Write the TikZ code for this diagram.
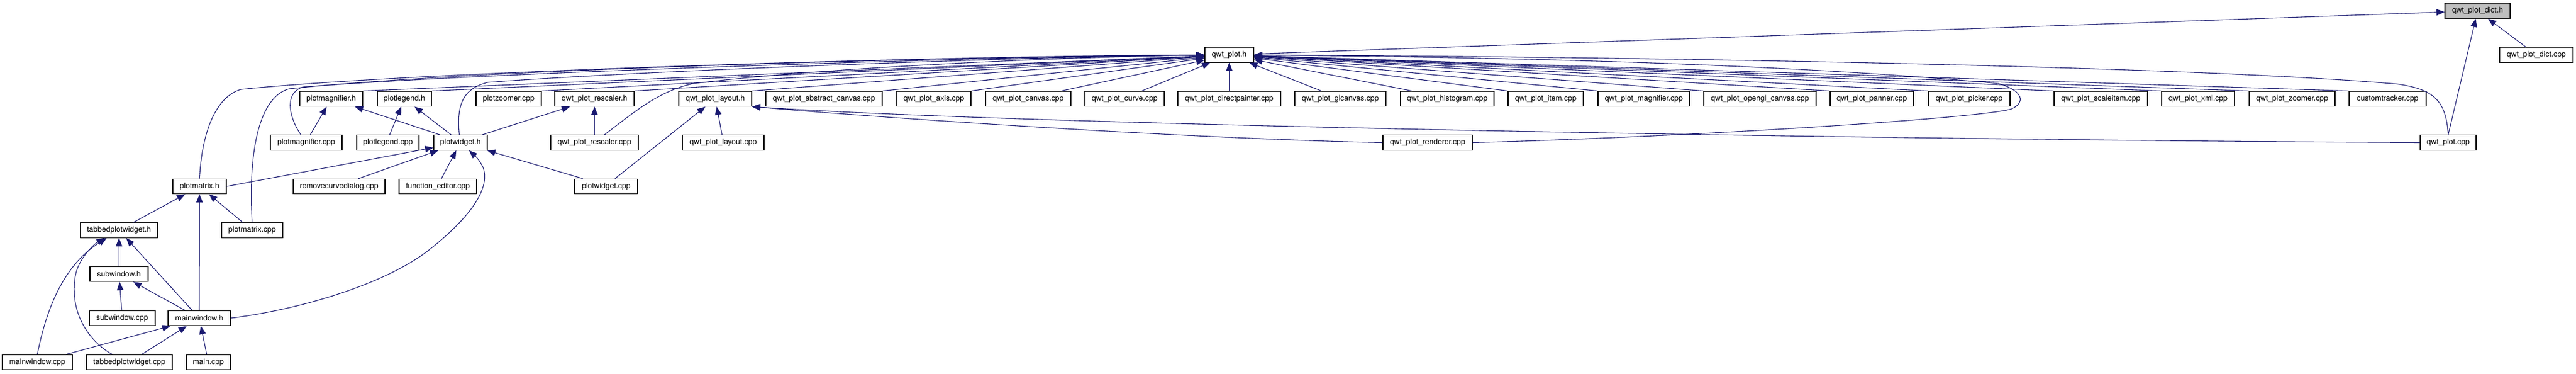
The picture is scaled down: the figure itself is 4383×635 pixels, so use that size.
\documentclass[tikz,border=0pt]{standalone}
\usepackage{fontspec}
\setmainfont{TeX Gyre Heros}
\usetikzlibrary{arrows.meta}
\definecolor{depblue}{RGB}{25,25,112}
\definecolor{rootgray}{RGB}{191,191,191}
\begin{document}
\begin{tikzpicture}[x=1pt,y=-1pt,
  nbox/.style={draw=black, line width=1.2pt, fill=white, minimum height=25.5pt, inner sep=0pt, font=\fontsize{13}{15}\selectfont},
  rootbox/.style={nbox, fill=rootgray},
  dep/.style={draw=depblue, line width=1.1pt, -{Triangle[length=14pt,width=11pt]}}]
\fill[white] (0,0) rectangle (4383,635);
\useasboundingbox (0,0) rectangle (4383,635);

% row 0 / 1
\node[rootbox, minimum width=111pt] (dict) at (4215.5,18.5) {qwt\_plot\_dict.h};
\node[nbox, minimum width=125pt] (dictcpp) at (4315.5,93.2) {qwt\_plot\_dict.cpp};
\node[nbox, minimum width=83pt] (qp) at (2091.5,93.2) {qwt\_plot.h};

% row 2
\node[nbox, minimum width=107pt] (pmagh) at (563.5,168) {plotmagnifier.h};
\node[nbox, minimum width=92pt] (plegh) at (688,168) {plotlegend.h};
\node[nbox, minimum width=111pt] (pzoom) at (865.5,168) {plotzoomer.cpp};
\node[nbox, minimum width=135pt] (resch) at (1011.5,168) {qwt\_plot\_rescaler.h};
\node[nbox, minimum width=124pt] (layh) at (1217,168) {qwt\_plot\_layout.h};
\node[nbox, minimum width=198pt] (abs) at (1402,168) {qwt\_plot\_abstract\_canvas.cpp};
\node[nbox, minimum width=126pt] (axis) at (1589,168) {qwt\_plot\_axis.cpp};
\node[nbox, minimum width=145pt] (canvas) at (1749.5,168) {qwt\_plot\_canvas.cpp};
\node[nbox, minimum width=135pt] (curve) at (1913.5,168) {qwt\_plot\_curve.cpp};
\node[nbox, minimum width=175pt] (dpaint) at (2091.5,168) {qwt\_plot\_directpainter.cpp};
\node[nbox, minimum width=155pt] (gl) at (2280.5,168) {qwt\_plot\_glcanvas.cpp};
\node[nbox, minimum width=159pt] (hist) at (2462.5,168) {qwt\_plot\_histogram.cpp};
\node[nbox, minimum width=128pt] (item) at (2630,168) {qwt\_plot\_item.cpp};
\node[nbox, minimum width=156pt] (magc) at (2797,168) {qwt\_plot\_magnifier.cpp};
\node[nbox, minimum width=191pt] (ogl) at (2994.5,168) {qwt\_plot\_opengl\_canvas.cpp};
\node[nbox, minimum width=142pt] (pan) at (3185,168) {qwt\_plot\_panner.cpp};
\node[nbox, minimum width=139pt] (pick) at (3350.5,168) {qwt\_plot\_picker.cpp};
\node[nbox, minimum width=159pt] (scale) at (3574.5,168) {qwt\_plot\_scaleitem.cpp};
\node[nbox, minimum width=124pt] (xml) at (3740,168) {qwt\_plot\_xml.cpp};
\node[nbox, minimum width=146pt] (zoomr) at (3900,168) {qwt\_plot\_zoomer.cpp};
\node[nbox, minimum width=131pt] (ctrack) at (4062.5,168) {customtracker.cpp};

% row 3
\node[nbox, minimum width=122pt] (pmagc) at (521,242.5) {plotmagnifier.cpp};
\node[nbox, minimum width=106pt] (plegc) at (660,242.5) {plotlegend.cpp};
\node[nbox, minimum width=91pt] (pwh) at (783.5,242.5) {plotwidget.h};
\node[nbox, minimum width=149pt] (rescc) at (1011.5,242.5) {qwt\_plot\_rescaler.cpp};
\node[nbox, minimum width=139pt] (layc) at (1230.5,242.5) {qwt\_plot\_layout.cpp};
\node[nbox, minimum width=152pt] (rend) at (2429,242.5) {qwt\_plot\_renderer.cpp};
\node[nbox, minimum width=95pt] (qpc) at (4165.5,242.5) {qwt\_plot.cpp};

% row 4
\node[nbox, minimum width=91pt] (pmh) at (339.5,317) {plotmatrix.h};
\node[nbox, minimum width=156pt] (rcd) at (577,317) {removecurvedialog.cpp};
\node[nbox, minimum width=132pt] (fed) at (745,317) {function\_editor.cpp};
\node[nbox, minimum width=107pt] (pwc) at (1031.5,317) {plotwidget.cpp};

% row 5
\node[nbox, minimum width=131pt] (tpwh) at (202.5,391.5) {tabbedplotwidget.h};
\node[nbox, minimum width=104pt] (pmc) at (429,391.5) {plotmatrix.cpp};

% row 6
\node[nbox, minimum width=99pt] (swh) at (202.5,466) {subwindow.h};

% row 7
\node[nbox, minimum width=112pt] (swc) at (208,541) {subwindow.cpp};
\node[nbox, minimum width=106pt] (mwh) at (339,541) {mainwindow.h};

% row 8
\node[nbox, minimum width=119pt] (mwc) at (63.5,616) {mainwindow.cpp};
\node[nbox, minimum width=146pt] (tpwc) at (220,616) {tabbedplotwidget.cpp};
\node[nbox, minimum width=75pt] (mainc) at (354.5,616) {main.cpp};

% ---- edges into qwt_plot_dict.h
\draw[dep] (qp) -- (dict);
\draw[dep] (qpc.north) -- (dict);
\draw[dep] (dictcpp) -- (dict);

% ---- edges into qwt_plot.h
\foreach \s in {pmagh,plegh,pzoom,resch,layh,abs,axis}
  \draw[dep] (\s.north east) -- (qp);
\draw[dep] ([xshift=-17pt]canvas.north east) -- (qp);
\draw[dep] ([xshift=-39pt]curve.north east) -- (qp);
\draw[dep] (dpaint) -- (qp);
\draw[dep] ([xshift=46pt]gl.north west) -- (qp);
\draw[dep] ([xshift=20pt]hist.north west) -- (qp);
\foreach \s in {item,magc,ogl,pan,pick,scale,xml,zoomr,ctrack}
  \draw[dep] (\s.north west) -- (qp);
\draw[dep] (pmh.north) .. controls (343,230) and (365,165) .. (410,152)
  .. controls (700,122) and (1600,95) .. (qp);
\draw[dep] (pmc.north) .. controls (422,260) and (440,165) .. (492,151)
  .. controls (800,118) and (1600,97) .. (qp);
\draw[dep] ([xshift=-9pt]pmagc.north) .. controls (495,205) and (480,160) .. (515,148)
  .. controls (800,125) and (1600,98) .. (qp);
\draw[dep] ([xshift=-2pt]pwh.north) .. controls (776,175) and (790,150) .. (830,140)
  .. controls (1100,120) and (1700,98) .. (qp);
\draw[dep] ([xshift=17pt]rescc.north) .. controls (1080,190) and (1120,155) .. (1180,142)
  .. controls (1400,115) and (1800,97) .. (qp);
\draw[dep] (rend.east) .. controls (2900,232) and (3380,200) .. (3423,185)
  .. controls (3445,175) and (3445,155) .. (3400,142)
  .. controls (3000,105) and (2500,97) .. (qp);
\draw[dep] (qpc.north) .. controls (4162,170) and (4140,152) .. (4080,143)
  .. controls (3700,110) and (2700,96) .. (qp);

% ---- header-to-header
\draw[dep] ([xshift=11pt]pwh.north west) -- (pmagh);
\draw[dep] ([xshift=-16pt]pwh.north) -- (plegh);
\draw[dep] ([xshift=-9pt]pwh.north east) -- (resch);
\draw[dep] ([xshift=7pt]pmagc.north) -- (pmagh);
\draw[dep] ([xshift=3pt]plegc.north) -- (plegh);
\draw[dep] (rescc) -- (resch);
\draw[dep] ([xshift=-2pt]layc.north) -- (layh);
\draw[dep] ([xshift=15pt]pwc.north) -- (layh);
\draw[dep] ([xshift=-40pt]pwc.north) -- (pwh);
\draw[dep] (rend.west) .. controls (2000,235) and (1500,200) .. (layh.south east);
\draw[dep] (qpc.west) .. controls (3000,236) and (1700,210) .. (layh.south east);

% ---- into plotwidget.h
\draw[dep] (pmh.east) -- (pwh);
\draw[dep] ([xshift=33pt]rcd.north) -- (pwh);
\draw[dep] ([xshift=6pt]fed.north) -- (pwh);
\draw[dep] (mwh.east) .. controls (520,525) and (660,480) .. (730,425)
  .. controls (800,370) and (835,320) .. (822,285)
  .. controls (815,270) and (808,265) .. (pwh);

% ---- lower part
\draw[dep] (tpwh) -- (pmh);
\draw[dep] (pmc) -- (pmh);
\draw[dep] (mwh) -- (pmh);
\draw[dep] (mwh) -- (tpwh);
\draw[dep] (swh) -- (tpwh);
\draw[dep] (mwh) -- (swh);
\draw[dep] (swc) -- (swh);
\draw[dep] (mwc.north) .. controls (80,520) and (110,450) .. (tpwh);
\draw[dep] ([xshift=-29pt]tpwc.north) .. controls (150,580) and (118,530) .. (128,470)
  .. controls (133,440) and (160,415) .. (tpwh);
\draw[dep] (mwc) -- (mwh);
\draw[dep] (tpwc) -- (mwh);
\draw[dep] (mainc) -- (mwh);
\end{tikzpicture}
\end{document}
